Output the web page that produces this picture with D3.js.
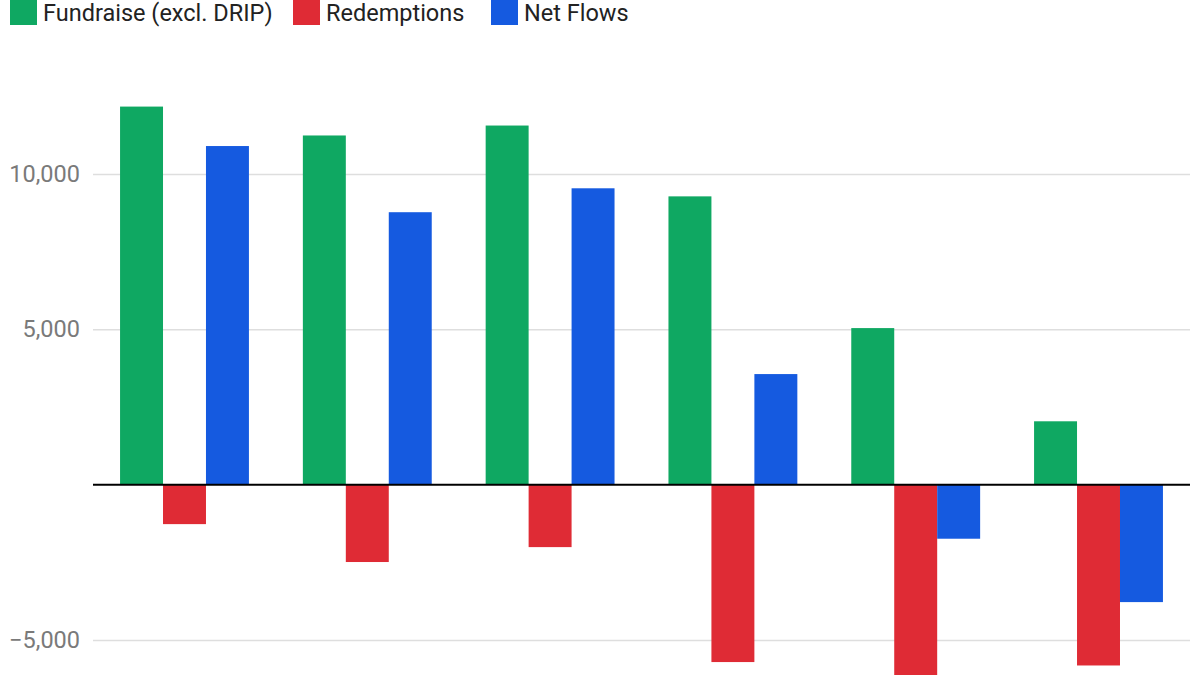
<!DOCTYPE html>
<html>
<head>
<meta charset="utf-8">
<script src="https://cdn.jsdelivr.net/npm/d3@7"></script>
<style>
  body { margin: 0; background: #fff; overflow: hidden; }
  svg { font-family: Roboto, "Noto Sans", sans-serif; }
</style>
</head>
<body>
<div id="chart"></div>
<script>
// data (bottom category labels are cut off)
var categories = ["1", "2", "3", "4", "5", "6"];
var seriesNames = ["Fundraise (excl. DRIP)", "Redemptions", "Net Flows"];
var seriesColors = ["#0fa862", "#df2b35", "#155ae0"];
var fundraise = [12170, 11240, 11560, 9280, 5040, 2040];
var redemptions = [-1270, -2490, -2010, -5710, -6780, -5820];
var netFlows = [10900, 8770, 9540, 3560, -1740, -3780];
var yTicks = [-5000, 5000, 10000];

const width = 1200, height = 675;

var svg = d3.select("#chart")
    .append("svg")
    .attr("width", width)
    .attr("height", height);

// scales
var x = d3.scaleBand()
    .domain(categories)
    .range([93, 1190])
    .paddingInner(0.295)
    .paddingOuter(0.148);

var xSeries = d3.scaleBand()
    .domain(seriesNames)
    .range([0, x.bandwidth()])
    .padding(0);

var y = d3.scaleLinear()
    .domain([-5000, 10000])
    .range([640, 174]);

//gridlines + labels
var yAxis = svg.append("g")
    .attr("transform", "translate(93,0)")
    .call(d3.axisLeft(y)
        .tickValues(yTicks)
        .tickSize(-(1190 - 93))
        .tickPadding(13)
        .tickFormat(d => d3.format(",")(d).replace("-", "\u2212")));
yAxis.select(".domain").remove();
yAxis.selectAll(".tick line")
    .attr("stroke", "#dedede")
    .attr("stroke-width", 1.5);
yAxis.selectAll(".tick text")
    .attr("fill", "#7a7a7a")
    .style("font-size", "23.5px")
    .style("font-family", "Roboto, sans-serif");

//bars
var rows = categories.map((c, i) => ({
    cat: c,
    vals: [fundraise[i], redemptions[i], netFlows[i]]
}));

var groups = svg.selectAll("g.group")
    .data(rows)
    .enter()
    .append("g")
    .attr("class", "group")
    .attr("transform", d => `translate(${x(d.cat)},0)`);

groups.selectAll("rect")
    .data(d => d.vals.map((v, j) => ({ name: seriesNames[j], value: v, color: seriesColors[j] })))
    .enter()
    .append("rect")
    .attr("x", d => xSeries(d.name))
    .attr("y", d => y(Math.max(0, d.value)))
    .attr("width", xSeries.bandwidth())
    .attr("height", d => Math.abs(y(d.value) - y(0)))
    .attr("fill", d => d.color);

//zero baseline
svg.append("line")
    .attr("x1", 93)
    .attr("x2", 1190)
    .attr("y1", y(0))
    .attr("y2", y(0))
    .attr("stroke", "#000")
    .attr("stroke-width", 2);

//legend
var legendX = [10, 293, 491];
var legend = svg.selectAll("g.legend")
    .data(seriesNames)
    .enter()
    .append("g")
    .attr("class", "legend")
    .attr("transform", (d, i) => `translate(${legendX[i]},0)`);

legend.append("rect")
    .attr("x", 0)
    .attr("y", -2)
    .attr("width", 27)
    .attr("height", 27)
    .attr("fill", (d, i) => seriesColors[i]);

legend.append("text")
    .attr("x", 33)
    .attr("y", 21)
    .attr("fill", "#222")
    .style("font-size", "23.5px")
    .text(d => d);
</script>
</body>
</html>
